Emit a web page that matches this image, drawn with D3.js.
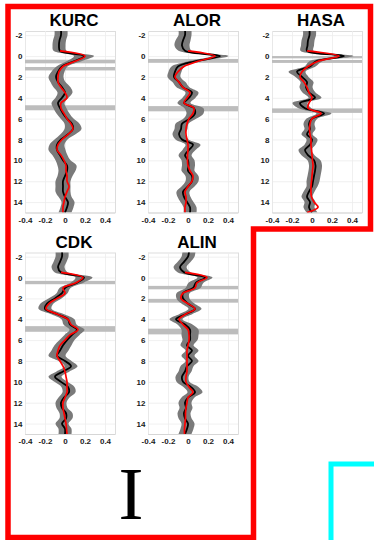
<!DOCTYPE html>
<html>
<head>
<meta charset="utf-8">
<script src="https://cdn.jsdelivr.net/npm/d3@7"></script>
<style>
	body { margin: 0; background: #ffffff; }
	svg { display: block; }
</style>
</head>
<body>
<div id="div_id_main"></div>
<script>

// ---------------------------------------------------
// data (value vs. depth)

const g_vDepths = [-2.5, -2, -1.5, -1, -0.5, 0, 0.5, 1, 1.5, 2, 2.5, 3, 3.5, 4, 4.5, 5, 5.5, 6,
				   6.5, 7, 7.5, 8, 8.5, 9, 9.5, 10, 10.5, 11, 11.5, 12, 12.5, 13, 13.5, 14, 14.5, 15];

const g_vNames = ["KURC", "ALOR", "HASA", "CDK", "ALIN"];

const g_vTicksX = [-0.4, -0.2, 0, 0.2, 0.4];
const g_vTicksY = [-2, 0, 2, 4, 6, 8, 10, 12, 14];

const kurcMean   = [-0.04, -0.04, -0.055, -0.06, -0.05, 0.19, 0.09, -0.03, -0.07, -0.09, -0.07, -0.03, 0.0, -0.03, -0.07, -0.05, -0.02, 0.02,
					0.07, 0.08, 0.03, -0.04, -0.08, -0.08, -0.05, -0.02, 0.02, 0.02, 0.0, -0.02, -0.02, -0.02, 0.0, 0.03, 0.02, 0.0];
const kurcSpread = [0.065, 0.065, 0.065, 0.065, 0.065, 0.1, 0.075, 0.055, 0.065, 0.075, 0.075, 0.085, 0.075, 0.065, 0.065, 0.065, 0.065, 0.065,
					0.075, 0.085, 0.075, 0.065, 0.075, 0.085, 0.075, 0.075, 0.095, 0.085, 0.075, 0.075, 0.075, 0.075, 0.065, 0.065, 0.065, 0.065];
const kurcFit    = [null, null, null, null, -0.05, 0.2, 0.1, -0.02, -0.06, -0.07, -0.07, -0.04, 0.0, 0.02, -0.04, -0.04, -0.01, 0.02,
					0.06, 0.08, 0.03, -0.03, -0.07, -0.08, -0.04, -0.01, 0.01, 0.01, 0.02, 0.02, 0.04, 0.02, 0.0, -0.01, -0.02, -0.02];
const kurcBands  = [[0.35, 0.7], [1.05, 1.38], [4.72, 5.2]];

const alorMean   = [-0.03, -0.03, -0.05, -0.06, -0.03, 0.32, 0.07, -0.1, -0.13, -0.14, -0.09, -0.05, 0.04, 0.01, -0.04, 0.06, 0.07, 0.02,
					-0.06, -0.07, -0.09, -0.06, 0.05, 0.01, -0.03, 0.0, 0.005, 0.0, 0.04, 0.04, 0.0, -0.05, -0.04, -0.01, 0.02, 0.02];
const alorSpread = [0.065, 0.065, 0.075, 0.075, 0.065, 0.085, 0.065, 0.065, 0.065, 0.065, 0.065, 0.065, 0.065, 0.065, 0.065, 0.095, 0.085, 0.065,
					0.065, 0.065, 0.065, 0.065, 0.075, 0.065, 0.065, 0.065, 0.065, 0.065, 0.065, 0.065, 0.065, 0.065, 0.065, 0.065, 0.065, 0.065];
const alorFit    = [null, null, null, null, 0.0, 0.27, 0.1, -0.04, -0.1, -0.13, -0.09, -0.05, 0.02, -0.01, -0.04, 0.06, 0.05, 0.01,
					-0.01, -0.02, -0.02, -0.01, 0.0, 0.0, -0.005, -0.005, 0.0, 0.02, 0.05, 0.04, 0.0, -0.03, -0.02, -0.02, -0.03, -0.03];
const alorBands  = [[0.28, 0.65], [4.8, 5.3]];

const hasaMean   = [-0.025, -0.025, -0.04, -0.045, -0.05, 0.32, 0.04, -0.02, -0.15, -0.1, -0.05, -0.06, -0.03, 0.03, -0.12, -0.07, 0.12, 0.0,
					-0.03, -0.02, -0.05, 0.0, -0.02, -0.07, -0.04, 0.02, 0.035, 0.03, 0.02, 0.01, 0.0, -0.03, -0.05, -0.02, -0.03, 0.0];
const hasaSpread = [0.065, 0.065, 0.065, 0.065, 0.065, 0.095, 0.065, 0.055, 0.085, 0.065, 0.065, 0.065, 0.065, 0.065, 0.075, 0.065, 0.075, 0.055,
					0.055, 0.055, 0.055, 0.055, 0.055, 0.065, 0.065, 0.065, 0.065, 0.065, 0.065, 0.065, 0.055, 0.055, 0.055, 0.055, 0.055, 0.055];
const hasaFit    = [null, null, null, null, -0.05, 0.27, 0.06, -0.04, -0.1, -0.12, -0.08, -0.05, -0.03, 0.0, -0.03, -0.04, 0.09, 0.0,
					-0.02, -0.025, -0.02, -0.01, -0.01, -0.005, 0.0, 0.005, 0.01, 0.005, 0.0, -0.005, -0.01, -0.01, -0.005, 0.02, 0.06, -0.05];
const hasaBands  = [[0.0, 0.22], [0.38, 0.66], [5.02, 5.45]];

const cdkMean    = [-0.03, -0.03, -0.05, -0.07, -0.04, 0.19, 0.12, 0.0, -0.03, -0.1, -0.18, -0.2, -0.08, 0.03, 0.05, 0.12, 0.07, 0.02,
					-0.02, -0.05, -0.08, 0.0, 0.06, -0.02, -0.1, -0.04, 0.03, 0.04, -0.01, -0.04, -0.03, 0.01, 0.01, -0.03, 0.0, 0.0];
const cdkSpread  = [0.065, 0.065, 0.065, 0.065, 0.065, 0.085, 0.065, 0.055, 0.055, 0.065, 0.065, 0.065, 0.065, 0.065, 0.065, 0.075, 0.075, 0.075,
					0.085, 0.085, 0.085, 0.065, 0.065, 0.065, 0.065, 0.065, 0.065, 0.065, 0.055, 0.055, 0.055, 0.065, 0.065, 0.065, 0.065, 0.065];
const cdkFit     = [null, null, null, null, -0.04, 0.18, 0.11, -0.02, 0.0, -0.08, -0.16, -0.19, -0.08, 0.03, 0.06, 0.13, 0.05, 0.0,
					-0.05, -0.07, -0.08, -0.05, -0.02, 0.0, 0.01, 0.02, 0.02, 0.02, 0.0, -0.02, -0.02, -0.01, 0.0, 0.01, 0.015, 0.02];
const cdkBands   = [[0.32, 0.64], [4.66, 5.2]];

const alinMean   = [0.01, 0.0, -0.04, -0.08, -0.04, 0.17, 0.08, 0.05, -0.05, -0.05, 0.0, 0.07, -0.02, -0.12, -0.03, 0.02, 0.02, 0.02,
					-0.01, 0.04, 0.0, 0.04, -0.01, -0.03, -0.06, -0.05, 0.03, 0.07, 0.0, -0.03, -0.02, -0.04, -0.03, 0.0, -0.01, -0.03];
const alinSpread = [0.065, 0.065, 0.065, 0.065, 0.065, 0.075, 0.075, 0.075, 0.065, 0.065, 0.065, 0.065, 0.065, 0.065, 0.075, 0.085, 0.085, 0.075,
					0.065, 0.065, 0.065, 0.065, 0.065, 0.065, 0.065, 0.065, 0.075, 0.075, 0.065, 0.065, 0.065, 0.065, 0.065, 0.065, 0.065, 0.065];
const alinFit    = [null, null, null, null, -0.03, 0.19, 0.09, 0.07, -0.05, -0.07, 0.0, 0.07, -0.02, -0.09, -0.05, 0.0, 0.01, 0.01,
					0.0, -0.01, -0.01, -0.01, -0.01, -0.01, -0.02, -0.02, 0.01, 0.05, 0.0, -0.01, -0.02, -0.025, -0.025, -0.03, -0.035, -0.035];
const alinBands  = [[0.8, 1.13], [2.06, 2.41], [4.9, 5.45]];

// ---------------------------------------------------

const PLOT_WIDTH = 90;
const PLOT_HEIGHT = 181.5;
const FONT_SANS = "'Liberation Sans', Arial, Helvetica, sans-serif";

function funcDraw_Main() {

	let svgMain = d3.select("#div_id_main")
					.append("svg")
						.attr("id", "svg_id_main")
						.attr("width", 374)
						.attr("height", 540);

	// frames -----------------------------------------

	svgMain.append("path")
				.attr("d", "M8,6.5 L370.5,6.5 L370.5,229 L253.5,229 L253.5,537.5 L8,537.5 Z")
				.attr("fill", "none")
				.attr("stroke", "#ff0000")
				.attr("stroke-width", 5.5);

	svgMain.append("path")
				.attr("d", "M331,545 L331,464 L380,464")
				.attr("fill", "none")
				.attr("stroke", "#00ffff")
				.attr("stroke-width", 5);

	svgMain.append("text")
				.attr("x", 131)
				.attr("y", 519)
				.attr("text-anchor", "middle")
				.attr("font-family", "'Liberation Serif', 'DejaVu Serif', serif")
				.attr("font-size", 75)
				.attr("fill", "#000000")
				.text("I");

	// panels -----------------------------------------

	let vPanels = [
		{ mean: kurcMean, spread: kurcSpread, fit: kurcFit, bands: kurcBands, left: 25,  top: 31 },
		{ mean: alorMean, spread: alorSpread, fit: alorFit, bands: alorBands, left: 148, top: 31 },
		{ mean: hasaMean, spread: hasaSpread, fit: hasaFit, bands: hasaBands, left: 272, top: 31 },
		{ mean: cdkMean,  spread: cdkSpread,  fit: cdkFit,  bands: cdkBands,  left: 25,  top: 252.5 },
		{ mean: alinMean, spread: alinSpread, fit: alinFit, bands: alinBands, left: 148, top: 252.5 }
	];

	for (let i = 0; i < vPanels.length; i++) {

		funcDraw_Panel(svgMain, i, g_vNames[i], vPanels[i]);
	}
}

function funcDraw_Panel(svgMain, nIndex, strName, p) {

	let fScale_X = d3.scaleLinear()
						.domain([-0.4, 0.5])
						.range([p.left, p.left + PLOT_WIDTH]);

	let fScale_Y = d3.scaleLinear()
						.domain([-2.4, 15])
						.range([p.top, p.top + PLOT_HEIGHT]);

	let gPanel = svgMain.append("g")
						.attr("id", "g_id_panel_" + nIndex);

	gPanel.append("clipPath")
				.attr("id", "clip_id_panel_" + nIndex)
			.append("rect")
				.attr("x", p.left)
				.attr("y", p.top)
				.attr("width", PLOT_WIDTH)
				.attr("height", PLOT_HEIGHT);

	// grid + axes ---------------------------------------

	let gAxisY = gPanel.append("g")
						.attr("transform", "translate(" + p.left + ",0)")
						.call(d3.axisLeft(fScale_Y)
								.tickValues(g_vTicksY)
								.tickSize(-PLOT_WIDTH)
								.tickPadding(2.5)
								.tickFormat(d => String(d)));

	let gAxisX = gPanel.append("g")
						.attr("transform", "translate(0," + (p.top + PLOT_HEIGHT) + ")")
						.call(d3.axisBottom(fScale_X)
								.tickValues(g_vTicksX)
								.tickSize(-PLOT_HEIGHT)
								.tickPadding(4.5)
								.tickFormat(d => String(d)));

	[gAxisY, gAxisX].forEach(function(g) {

		g.select(".domain").attr("stroke", "#d4d4d4").attr("stroke-width", 0.8);
		g.selectAll(".tick line").attr("stroke", "#ececec").attr("stroke-width", 0.8);
		g.selectAll(".tick text")
			.attr("font-family", FONT_SANS)
			.attr("font-weight", "bold")
			.attr("font-size", 8)
			.attr("fill", "#1a1a1a");
	});

	// title ---------------------------------------------

	gPanel.append("text")
				.attr("x", p.left + PLOT_WIDTH / 2 + 4)
				.attr("y", p.top - 5)
				.attr("text-anchor", "middle")
				.attr("font-family", FONT_SANS)
				.attr("font-weight", "bold")
				.attr("font-size", 17)
				.attr("fill", "#000000")
				.text(strName);

	// marked depths -------------------------------------

	gPanel.selectAll("rect.rect_class_band")
		.data(p.bands)
		.enter()
			.append("rect")
				.attr("class", "rect_class_band")
				.attr("x", fScale_X(-0.4))
				.attr("width", PLOT_WIDTH)
				.attr("y", d => fScale_Y(d[0]))
				.attr("height", d => fScale_Y(d[1]) - fScale_Y(d[0]))
				.attr("fill", "#bdbdbd");

	// spread + lines ------------------------------------

	let vRows = g_vDepths.map(function(d, i) {
		return { depth: d, mean: p.mean[i], spread: p.spread[i], fit: p.fit[i] };
	});

	let gData = gPanel.append("g")
						.attr("clip-path", "url(#clip_id_panel_" + nIndex + ")");

	let fArea = d3.area()
					.curve(d3.curveCatmullRom)
					.y(d => fScale_Y(d.depth))
					.x0(d => fScale_X(d.mean - d.spread))
					.x1(d => fScale_X(d.mean + d.spread));

	gData.append("path")
			.datum(vRows)
			.attr("d", fArea)
			.attr("fill", "#7a7a7a")
			.attr("stroke", "none");

	let fLineMean = d3.line()
						.curve(d3.curveCatmullRom)
						.y(d => fScale_Y(d.depth))
						.x(d => fScale_X(d.mean));

	gData.append("path")
			.datum(vRows)
			.attr("d", fLineMean)
			.attr("fill", "none")
			.attr("stroke", "#000000")
			.attr("stroke-width", 1.8);

	let fLineFit = d3.line()
						.curve(d3.curveCatmullRom)
						.defined(d => d.fit !== null)
						.y(d => fScale_Y(d.depth))
						.x(d => fScale_X(d.fit));

	gData.append("path")
			.datum(vRows)
			.attr("d", fLineFit)
			.attr("fill", "none")
			.attr("stroke", "#ff0000")
			.attr("stroke-width", 1.7);
}

funcDraw_Main();

</script>
</body>
</html>
